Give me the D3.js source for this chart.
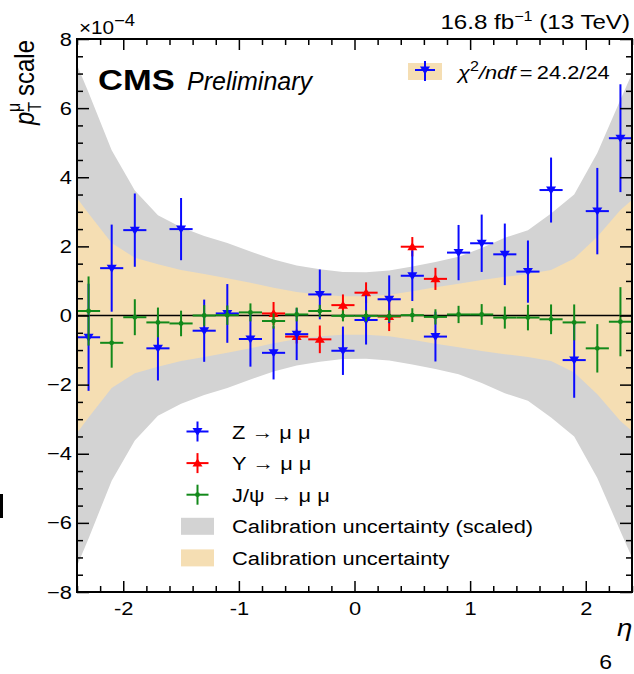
<!DOCTYPE html>
<html>
<head>
<meta charset="utf-8">
<script src="https://cdn.jsdelivr.net/npm/d3@7"></script>
<style>
  body { margin: 0; background: #fff; }
  svg { display: block; }
  text { font-family: "Liberation Sans", Arial, Helvetica, sans-serif; fill: #000; }
</style>
</head>
<body>
<svg id="chart" width="634" height="674"></svg>
<script>
// ---- data (scale values in units of 1e-4) ----
const etaBins = [-2.3, -2.1, -1.9, -1.7, -1.5, -1.3, -1.1, -0.9, -0.7, -0.5, -0.3, -0.1,
                 0.1, 0.3, 0.5, 0.7, 0.9, 1.1, 1.3, 1.5, 1.7, 1.9, 2.1, 2.3];
const binHalfWidth = 0.1;

const zScale = [-0.63, 1.37, 2.47, -0.95, 2.50, -0.44, 0.06, -0.68, -1.08, -0.54, 0.61, -1.02,
                -0.13, 0.47, 1.15, -0.61, 1.82, 2.09, 1.77, 1.27, 3.63, -1.29, 3.02, 5.13];
const zErr   = [1.55, 1.26, 1.06, 0.93, 0.90, 0.90, 0.85, 0.80, 0.77, 0.75, 0.72, 0.70,
                0.71, 0.69, 0.73, 0.72, 0.80, 0.83, 0.89, 0.90, 0.94, 1.09, 1.25, 1.56];

const upsEta   = [-0.7, -0.5, -0.3, -0.1, 0.1, 0.3, 0.5, 0.7];
const upsScale = [0.06, -0.61, -0.69, 0.30, 0.66, -0.03, 1.99, 1.06];
const upsErr   = [0.33, 0.20, 0.40, 0.31, 0.30, 0.42, 0.28, 0.32];

const jpsiScale = [0.13, -0.79, -0.05, -0.20, -0.23, 0.00, 0.01, 0.09, -0.16, 0.03, 0.13, -0.01,
                   -0.01, -0.02, 0.01, -0.04, 0.03, 0.03, -0.06, -0.06, -0.11, -0.20, -0.95, -0.18];
const jpsiErr   = [1.00, 0.72, 0.52, 0.43, 0.37, 0.30, 0.28, 0.26, 0.22, 0.20, 0.18, 0.16,
                   0.16, 0.17, 0.20, 0.22, 0.25, 0.30, 0.32, 0.37, 0.43, 0.52, 0.70, 1.00];

const bandEta    = [-2.4, -2.3, -2.1, -1.9, -1.7, -1.5, -1.3, -1.1, -0.9, -0.7, -0.5, -0.3, -0.1,
                    0.1, 0.3, 0.5, 0.7, 0.9, 1.1, 1.3, 1.5, 1.7, 1.9, 2.1, 2.3, 2.4];
const bandScaled = [7.25, 6.45, 4.78, 3.62, 2.90, 2.55, 2.30, 2.10, 1.85, 1.62, 1.45, 1.34, 1.26,
                    1.25, 1.30, 1.42, 1.55, 1.70, 1.95, 2.25, 2.47, 2.95, 3.50, 4.70, 6.24, 7.00];
const bandCalib  = [3.40, 2.95, 2.10, 1.67, 1.48, 1.32, 1.20, 1.08, 0.95, 0.80, 0.68, 0.60, 0.56,
                    0.56, 0.60, 0.70, 0.82, 0.92, 1.03, 1.12, 1.20, 1.32, 1.65, 2.28, 3.05, 3.34];

const yTicks = [-8, -6, -4, -2, 0, 2, 4, 6, 8];
const xTicks = [-2, -1, 0, 1, 2];
const legendLabels = ["Z \u2192 \u03bc \u03bc", "\u03a5 \u2192 \u03bc \u03bc", "J/\u03c8 \u2192 \u03bc \u03bc",
                      "Calibration uncertainty (scaled)", "Calibration uncertainty"];

// ---- layout ----
const W = 634, H = 674;
const M = { left: 77, right: 2, top: 39, bottom: 82 };
const SX = 1.15; // horizontal glyph stretch used for all text
const colZ = "#0a0aff", colU = "#ff0000", colJ = "#12891a";
const colGray = "#d3d3d3", colWheat = "#f5deb3";

const svg = d3.select("#chart");
const x = d3.scaleLinear().domain([-2.4, 2.4]).range([M.left, W - M.right]);
const y = d3.scaleLinear().domain([-8, 8]).range([H - M.bottom, M.top]);

svg.append("defs").append("clipPath").attr("id", "plotclip")
  .append("rect").attr("x", M.left).attr("y", M.top)
  .attr("width", W - M.left - M.right).attr("height", H - M.top - M.bottom);

const plot = svg.append("g").attr("clip-path", "url(#plotclip)");

// uncertainty bands
const bandData = bandEta.map((e, i) => ({ e, s: bandScaled[i], c: bandCalib[i] }));
plot.append("path").datum(bandData)
  .attr("fill", colGray)
  .attr("d", d3.area().x(d => x(d.e)).y0(d => y(-d.s)).y1(d => y(d.s)));
plot.append("path").datum(bandData)
  .attr("fill", colWheat)
  .attr("d", d3.area().x(d => x(d.e)).y0(d => y(-d.c)).y1(d => y(d.c)));

// zero line
plot.append("line")
  .attr("x1", x(-2.4)).attr("x2", x(2.4)).attr("y1", y(0)).attr("y2", y(0))
  .attr("stroke", "#000").attr("stroke-width", 1.6);

// marker shapes
const downTri = "M-5,-3.5L5,-3.5L0,4.5Z";
const upTri = "M-5,3.5L5,3.5L0,-4.5Z";

function drawSeries(etas, vals, errs, color, marker) {
  const pts = etas.map((e, i) => ({ e, v: vals[i], err: errs[i] }));
  const g = plot.append("g");
  const p = g.selectAll("g").data(pts).join("g");
  p.append("line")
    .attr("x1", d => x(d.e - binHalfWidth)).attr("x2", d => x(d.e + binHalfWidth))
    .attr("y1", d => y(d.v)).attr("y2", d => y(d.v))
    .attr("stroke", color).attr("stroke-width", 2);
  p.append("line")
    .attr("x1", d => x(d.e)).attr("x2", d => x(d.e))
    .attr("y1", d => y(d.v - d.err)).attr("y2", d => y(d.v + d.err))
    .attr("stroke", color).attr("stroke-width", 2);
  if (marker === "dot") {
    p.append("circle").attr("cx", d => x(d.e)).attr("cy", d => y(d.v)).attr("r", 2.4).attr("fill", color);
  } else {
    p.append("path").attr("d", marker)
      .attr("transform", d => `translate(${x(d.e)},${y(d.v)})`).attr("fill", color);
  }
}
drawSeries(upsEta, upsScale, upsErr, colU, upTri);
drawSeries(etaBins, zScale, zErr, colZ, downTri);
drawSeries(etaBins, jpsiScale, jpsiErr, colJ, "dot");

// ---- axes ----
const yMinor = d3.range(-8, 8.01, 0.5).filter(v => Math.abs(v / 2 - Math.round(v / 2)) > 1e-6);
const xMinor = d3.range(-2.4, 2.41, 0.2).map(v => Math.round(v * 10) / 10)
  .filter(v => Math.abs(v - Math.round(v)) > 1e-6);

function styleAxis(g) {
  g.select(".domain").remove();
  g.selectAll(".tick line").attr("stroke", "#000").attr("stroke-width", 1.5);
  g.selectAll("text").attr("font-size", 19).attr("fill", "#000")
    .attr("font-family", "'Liberation Sans', Arial, sans-serif");
}

// left
svg.append("g").attr("transform", `translate(${M.left},0)`)
  .call(d3.axisLeft(y).tickValues(yTicks).tickSize(-12).tickPadding(5).tickSizeOuter(0))
  .call(styleAxis)
  .call(g => g.selectAll("text").attr("x", -5 / SX).attr("transform", `scale(${SX},1)`));
svg.append("g").attr("transform", `translate(${M.left},0)`)
  .call(d3.axisLeft(y).tickValues(yMinor).tickSize(-6).tickFormat("").tickSizeOuter(0))
  .call(styleAxis);
// right
svg.append("g").attr("transform", `translate(${W - M.right},0)`)
  .call(d3.axisRight(y).tickValues(yTicks).tickSize(-12).tickFormat("").tickSizeOuter(0))
  .call(styleAxis);
svg.append("g").attr("transform", `translate(${W - M.right},0)`)
  .call(d3.axisRight(y).tickValues(yMinor).tickSize(-6).tickFormat("").tickSizeOuter(0))
  .call(styleAxis);
// bottom
svg.append("g").attr("transform", `translate(0,${H - M.bottom})`)
  .call(d3.axisBottom(x).tickValues(xTicks).tickSize(-11).tickPadding(10)
    .tickFormat(d => String(d)).tickSizeOuter(0))
  .call(styleAxis)
  .call(g => g.selectAll("text").attr("transform", `scale(${SX},1)`));
svg.append("g").attr("transform", `translate(0,${H - M.bottom})`)
  .call(d3.axisBottom(x).tickValues(xMinor).tickSize(-6).tickFormat("").tickSizeOuter(0))
  .call(styleAxis);
// top
svg.append("g").attr("transform", `translate(0,${M.top})`)
  .call(d3.axisTop(x).tickValues(xTicks).tickSize(-11).tickFormat("").tickSizeOuter(0))
  .call(styleAxis);
svg.append("g").attr("transform", `translate(0,${M.top})`)
  .call(d3.axisTop(x).tickValues(xMinor).tickSize(-6).tickFormat("").tickSizeOuter(0))
  .call(styleAxis);

// frame
svg.append("rect")
  .attr("x", M.left).attr("y", M.top)
  .attr("width", W - M.left - M.right).attr("height", H - M.top - M.bottom)
  .attr("fill", "none").attr("stroke", "#000").attr("stroke-width", 2);

// ---- text ----
function txt(xp, yp, size, opts = {}) {
  const t = svg.append("text")
    .attr("transform", `translate(${xp},${yp}) scale(${opts.sx ?? SX},1)` + (opts.rot ? ` rotate(${opts.rot})` : ""))
    .attr("font-size", size)
    .attr("text-anchor", opts.anchor || "start");
  if (opts.weight) t.attr("font-weight", opts.weight);
  if (opts.style) t.attr("font-style", opts.style);
  if (opts.fill) t.attr("fill", opts.fill);
  return t;
}

// luminosity / energy
{
  const t = txt(630, 29, 21, { anchor: "end" });
  t.append("tspan").text("16.8 fb");
  t.append("tspan").attr("font-size", 14).attr("dy", -8).text("\u22121");
  t.append("tspan").attr("dy", 8).text(" (13 TeV)");
}
// exponent
{
  const t = txt(79, 34, 18);
  t.append("tspan").text("\u00d710");
  t.append("tspan").attr("font-size", 16).attr("dy", -8).text("\u22124");
}
// CMS Preliminary
txt(98, 90, 30, { weight: "bold" }).text("CMS");
txt(187, 90, 25, { style: "italic", sx: 1.0 }).text("Preliminary");

// y axis title
{
  const t = txt(34, 40, 24, { anchor: "end", rot: -90 });
  t.append("tspan").attr("font-style", "italic").text("p");
  t.append("tspan").attr("font-size", 16).attr("dy", 6).text("T");
  t.append("tspan").attr("font-size", 16).attr("dx", -10).attr("dy", -18).text("\u03bc");
  t.append("tspan").attr("dy", 12).text(" scale");
}
// x axis title
txt(617, 636, 24, { style: "italic" }).text("\u03b7");

// page number
txt(612, 669, 20, { anchor: "end", fill: "#8c8c8c" }).text("6");
svg.append("rect").attr("x", 0).attr("y", 494).attr("width", 3).attr("height", 24).attr("fill", "#000");

// ---- legend: fit quality ----
{
  const lx = 425, ly = 70;
  svg.append("rect").attr("x", lx - 17).attr("y", ly - 7).attr("width", 34).attr("height", 17).attr("fill", colWheat);
  svg.append("line").attr("x1", lx - 10).attr("x2", lx + 10).attr("y1", ly).attr("y2", ly).attr("stroke", colZ).attr("stroke-width", 2);
  svg.append("line").attr("x1", lx).attr("x2", lx).attr("y1", ly - 9).attr("y2", ly + 11).attr("stroke", colZ).attr("stroke-width", 2);
  svg.append("path").attr("d", downTri).attr("transform", `translate(${lx},${ly})`).attr("fill", colZ);
  const t = txt(458, 79, 19);
  t.append("tspan").attr("font-style", "italic").text("\u03c7");
  t.append("tspan").attr("font-size", 14).attr("dy", -8).text("2");
  t.append("tspan").attr("dy", 8).attr("font-style", "italic").text("/ndf");
  t.append("tspan").text("\u2009=\u200924.2/24");
}

// ---- legend: samples and bands ----
{
  const cx = 197.5, textX = 232, y0 = 431.5, dyL = 31.6;
  const mk = [
    { color: colZ, marker: downTri },
    { color: colU, marker: upTri },
    { color: colJ, marker: "dot" }
  ];
  mk.forEach((m, i) => {
    const cy = y0 + i * dyL;
    svg.append("line").attr("x1", cx - 11).attr("x2", cx + 11).attr("y1", cy).attr("y2", cy).attr("stroke", m.color).attr("stroke-width", 2);
    svg.append("line").attr("x1", cx).attr("x2", cx).attr("y1", cy - 10).attr("y2", cy + 10).attr("stroke", m.color).attr("stroke-width", 2);
    if (m.marker === "dot") svg.append("circle").attr("cx", cx).attr("cy", cy).attr("r", 2.4).attr("fill", m.color);
    else svg.append("path").attr("d", m.marker).attr("transform", `translate(${cx},${cy})`).attr("fill", m.color);
  });
  [colGray, colWheat].forEach((c, j) => {
    const cy = y0 + (3 + j) * dyL;
    svg.append("rect").attr("x", 181).attr("y", cy - 8.5).attr("width", 33).attr("height", 17).attr("fill", c);
  });
  legendLabels.forEach((lab, i) => {
    txt(textX, y0 + i * dyL + 7, 19).text(lab);
  });
}
</script>
</body>
</html>
